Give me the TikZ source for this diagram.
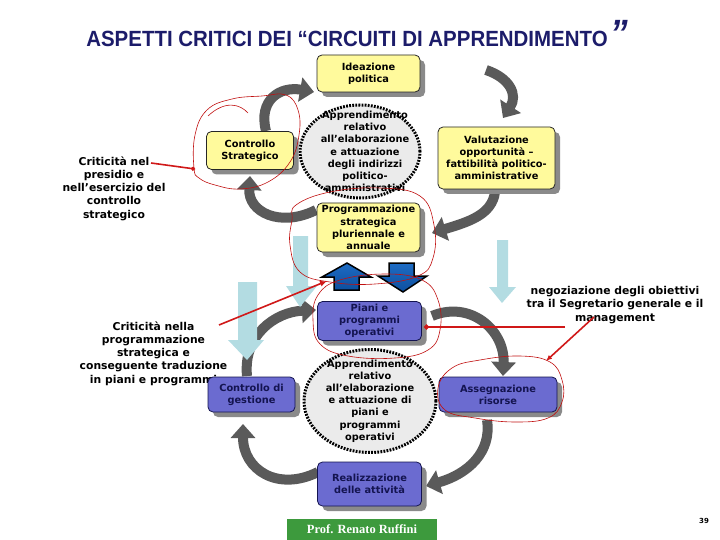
\documentclass[tikz,border=0pt]{standalone}
\usepackage{fontspec}
\setmainfont{DejaVu Sans}
\newfontfamily\titlef{Liberation Sans}[FakeStretch=0.93]
\newfontfamily\serf{Liberation Serif}
\usetikzlibrary{shapes.geometric,shadows,arrows.meta}
\definecolor{yfill}{HTML}{FFFA9C}
\definecolor{bfill}{HTML}{6B6BD0}
\definecolor{navy}{HTML}{141450}
\definecolor{titlec}{HTML}{1C1C6A}
\definecolor{shad}{HTML}{8A8A8A}
\definecolor{arcg}{HTML}{5A5A5A}
\definecolor{lblue}{HTML}{B3DCE2}
\definecolor{redl}{HTML}{D01818}
\definecolor{redc}{HTML}{C01010}
\definecolor{gfill}{HTML}{3D9A3D}
\definecolor{ellf}{HTML}{EBEBEB}
\definecolor{bluea}{HTML}{1E6CC4}
\definecolor{blueb}{HTML}{0D4F9E}
\begin{document}
\begin{tikzpicture}[x=1pt,y=-1pt,
  boxtxt/.style={font=\fontsize{9.8}{12.2}\selectfont\bfseries, align=center, inner sep=0pt},
  ybox/.style={boxtxt, draw=black!85, line width=0.8pt, fill=yfill, rounded corners=5pt,
     general shadow={shadow xshift=5pt, shadow yshift=-5pt, fill=shad}},
  bbox/.style={boxtxt, text=navy, draw=navy, line width=0.8pt, fill=bfill, rounded corners=5pt,
     general shadow={shadow xshift=5pt, shadow yshift=-5pt, fill=shad}},
  ell/.style={ellipse, draw=black, fill=ellf, line width=3pt, dash pattern=on 1.8pt off 1.3pt, inner sep=0pt},
  garc/.style={draw=arcg, line width=10pt, -{Triangle[width=24pt,length=14pt]}},
  lbl/.style={font=\fontsize{10.8}{13.2}\selectfont\bfseries, align=center, inner sep=0pt},
  redloop/.style={draw=redc, line width=0.6pt},
  redarr/.style={draw=redl, line width=1.6pt},
  lbarrow/.style={fill=lblue, draw=none},
  bluearrow/.style={top color=bluea, bottom color=blueb, draw=black, line width=1.5pt, line join=miter},
]
\useasboundingbox (0,0) rectangle (720,540);

% title
\node[font=\titlef\fontsize{22}{26}\selectfont\bfseries, text=titlec, inner sep=0pt] (title) at (347,39) {ASPETTI CRITICI DEI “CIRCUITI DI APPRENDIMENTO};
\node[font=\titlef\fontsize{38}{38}\selectfont\bfseries\itshape, text=titlec, inner sep=0pt] (quote) at (619,33) {”};

% arc end coordinates (top circuit)
\coordinate (a1s) at (266,131); \coordinate (a1e) at (314,92);
\coordinate (a2s) at (486,70);  \coordinate (a2e) at (503,118);
\coordinate (a3s) at (495,192); \coordinate (a3e) at (432,233);
\coordinate (a4s) at (316,210); \coordinate (a4e) at (250,176);
% bottom circuit
\coordinate (a5s) at (247,376); \coordinate (a5e) at (316,310);
\coordinate (a6s) at (432,316); \coordinate (a6e) at (503,376);
\coordinate (a7s) at (487,420); \coordinate (a7e) at (426,486);
\coordinate (a8s) at (318,472); \coordinate (a8e) at (243,424);

\draw[garc] (a1s) .. controls (258,100) and (280,86) .. (a1e);
\draw[garc] (a2s) .. controls (510,78) and (518,95) .. (a2e);
\draw[garc] (a3s) .. controls (492,215) and (468,222) .. (a3e);
\draw[garc] (a4s) .. controls (280,228) and (248,212) .. (a4e);
\draw[garc] (a5s) .. controls (243,335) and (275,312) .. (a5e);
\draw[garc] (a6s) .. controls (470,300) and (505,330) .. (a6e);
\draw[garc] (a7s) .. controls (492,452) and (468,474) .. (a7e);
\draw[garc] (a8s) .. controls (278,492) and (243,470) .. (a8e);

% ellipses
\node[ell, minimum width=120pt, minimum height=93pt] (ell1) at (360,151.5) {};
\node[boxtxt] (ell1t) at (365,151.5) {Apprendimento\\relativo\\all’elaborazione\\e attuazione\\degli indirizzi\\politico-\\amministrativi};
\node[ell, minimum width=132pt, minimum height=103pt] (ell2) at (370,401) {};
\node[boxtxt] (ell2t) at (370,401) {Apprendimento\\relativo\\all’elaborazione\\e attuazione di\\piani e\\programmi\\operativi};

% labels
\node[lbl] (crit1) at (114,188.5) {Criticità nel\\presidio e\\nell’esercizio del\\controllo\\strategico};
\node[lbl] (crit2) at (153.5,353.5) {Criticità nella\\programmazione\\strategica e\\conseguente traduzione\\in piani e programmi};
\node[lbl] (negoz) at (615,305) {negoziazione degli obiettivi\\tra il Segretario generale e il\\management};

% yellow boxes
\node[ybox, minimum width=103pt, minimum height=37pt] (idea) at (368.5,73.5) {Ideazione\\politica};
\node[ybox, minimum width=87pt, minimum height=38pt] (cstr) at (250,150.5) {Controllo\\Strategico};
\node[ybox, minimum width=117pt, minimum height=62pt] (valu) at (496.5,158) {Valutazione\\opportunità –\\fattibilità politico-\\amministrative};
\node[ybox, minimum width=103pt, minimum height=49pt] (prog) at (368.5,227.5) {Programmazione\\strategica\\pluriennale e\\annuale};

% blue boxes
\node[bbox, minimum width=104pt, minimum height=39pt] (piani) at (369.5,321) {Piani e\\programmi\\operativi};
\node[bbox, minimum width=87pt, minimum height=35pt] (cdg) at (251.5,394.5) {Controllo di\\gestione};
\node[bbox, minimum width=118pt, minimum height=35pt] (asse) at (498,394.5) {Assegnazione\\risorse};
\node[bbox, minimum width=104pt, minimum height=44pt] (real) at (369.5,484) {Realizzazione\\delle attività};

% light blue arrows
\fill[lbarrow] (293,236) -- (308,236) -- (308,286) -- (317,286) -- (300,307) -- (286,286) -- (293,286) -- cycle;
\fill[lbarrow] (238,282) -- (257,282) -- (257,340) -- (264,340) -- (247,360) -- (228,340) -- (238,340) -- cycle;
\fill[lbarrow] (497,240) -- (508,240) -- (508,287) -- (516,287) -- (502,303) -- (489,287) -- (497,287) -- cycle;

% blue block arrows
\draw[bluearrow] (334,290) -- (334,277) -- (322,277) -- (347,263) -- (371,277) -- (359,277) -- (359,290) -- cycle;
\draw[bluearrow] (389,263) -- (414,263) -- (414,276) -- (427,276) -- (403,292) -- (378,276) -- (389,276) -- cycle;

% green footer
\node[fill=gfill, minimum width=150pt, minimum height=22pt, inner sep=0pt, text=white, font=\serf\bfseries\fontsize{12.5}{14}\selectfont] (prof) at (362,529.5) {Prof. Renato Ruffini};
\node[font=\fontsize{7}{8}\selectfont\bfseries, inner sep=0pt] (pg) at (704,521) {39};

% red hand-drawn loops
\draw[redloop] plot[smooth cycle, tension=0.7] coordinates {(194,168) (195,135) (207,110) (232,99) (262,96) (286,95) (298,110) (299,135) (290,162) (268,182) (240,189) (215,185) (199,178)};
\draw[redloop] (208,116) .. controls (225,100) and (240,104) .. (248,113);
\draw[redloop] plot[smooth cycle, tension=0.7] coordinates {(296,205) (330,192) (380,188) (420,196) (434,225) (433,258) (418,276) (375,284) (330,282) (300,272) (290,245) (292,220)};
\draw[redloop] plot[smooth cycle, tension=0.7] coordinates {(318,295) (340,280) (385,274) (422,280) (438,300) (440,330) (428,350) (395,358) (348,356) (320,344) (313,320)};
\draw[redloop] plot[smooth cycle, tension=0.7] coordinates {(438,388) (452,368) (480,360) (520,356) (550,362) (562,380) (562,402) (548,418) (515,422) (475,418) (445,410)};

% red arrows
\coordinate (r1s) at (151,163); \coordinate (r1e) at (195,169);
\coordinate (r2s) at (219,325); \coordinate (r2e) at (327,281);
\coordinate (r3s) at (565,327); \coordinate (r3e) at (424,327);
\coordinate (r4s) at (594,317); \coordinate (r4e) at (546,361);
\draw[redarr, -{Circle[length=4pt]}] (r1s) -- (r1e);
\draw[redarr, -{Latex[length=7pt,width=6pt]}] (r2s) -- (r2e);
\draw[redarr, -{Circle[length=5pt]}] (r3s) -- (r3e);
\draw[redarr, -{Latex[length=6pt,width=5pt]}] (r4s) -- (r4e);
\end{tikzpicture}
\end{document}
